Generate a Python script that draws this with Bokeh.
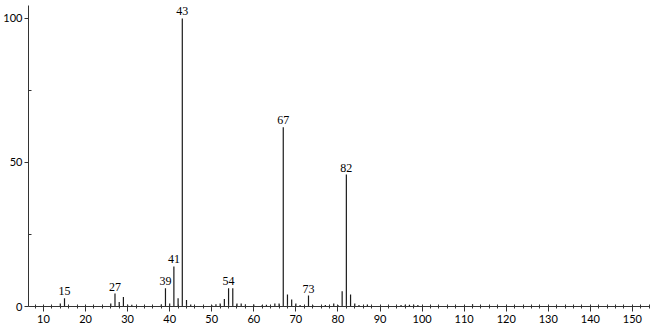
from bokeh.plotting import figure
from bokeh.models import ColumnDataSource, LabelSet, FixedTicker, Range1d
from bokeh.embed import file_html
from bokeh.resources import INLINE

mz = [14, 15, 26, 27, 28, 29, 30, 31, 38, 39, 40, 41, 42, 43, 44, 45,
      50, 51, 52, 53, 54, 55, 56, 57, 58, 60, 62, 63, 65, 66, 67, 68, 69, 70, 71,
      73, 74, 77, 79, 80, 81, 82, 83, 84, 85, 87, 95, 96, 97, 98, 99, 112]
intensity = [1.0, 2.9, 1.0, 4.5, 1.6, 3.3, 0.6, 0.6, 0.7, 6.3, 1.0, 13.9, 2.9, 100.0, 2.3, 0.7,
             0.5, 0.8, 1.0, 2.6, 6.3, 6.3, 1.0, 1.0, 0.7, 0.7, 0.5, 0.6, 1.0, 1.0, 62.2, 4.2, 2.4, 1.0, 0.5,
             3.8, 0.5, 0.5, 1.0, 0.5, 5.3, 45.8, 4.2, 1.0, 0.5, 0.7, 0.5, 0.6, 0.6, 0.6, 0.5, 0.8]
label_mz = [15, 27, 39, 41, 43, 54, 67, 73, 82]
label_int = [2.9, 4.5, 6.3, 13.9, 100.0, 6.3, 62.2, 3.8, 45.8]
label_txt = [str(m) for m in label_mz]

x_ticks = list(range(10, 151, 10))
x_minor = list(range(8, 155, 2))
y_ticks = [0, 50, 100]
y_minor = [25, 75]

FONT = "Lato"

p = figure(width=650, height=328, output_backend="svg", toolbar_location=None,
           x_range=Range1d(6.44, 154.3), y_range=Range1d(0, 104.5),
           min_border_left=27, min_border_right=0, min_border_top=5, min_border_bottom=22)
p.background_fill_color = "white"
p.border_fill_color = "white"
p.outline_line_color = None
p.grid.visible = False

src = ColumnDataSource(dict(x=mz, top=intensity, bottom=[0] * len(mz)))
p.segment(x0="x", y0="bottom", x1="x", y1="top", source=src,
          line_color="#1a1a1a", line_width=1.2)

lsrc = ColumnDataSource(dict(x=label_mz, y=label_int, t=label_txt))
p.add_layout(LabelSet(x="x", y="y", text="t", source=lsrc, text_align="center",
                      text_baseline="bottom", y_offset=3, text_font=FONT,
                      text_font_size="12px", text_color="#000000"))

p.xaxis.ticker = FixedTicker(ticks=x_ticks, minor_ticks=x_minor)
p.yaxis.ticker = FixedTicker(ticks=y_ticks, minor_ticks=y_minor)
for ax in (p.xaxis, p.yaxis):
    ax.axis_line_color = "#333333"
    ax.major_tick_line_color = "#333333"
    ax.minor_tick_line_color = "#333333"
    ax.major_label_text_font = FONT
    ax.major_label_text_font_size = "11px"
    ax.major_label_text_color = "#000000"
p.xaxis.major_tick_out = 5
p.xaxis.major_tick_in = 0
p.xaxis.minor_tick_out = 2
p.xaxis.minor_tick_in = 2
p.xaxis.major_label_standoff = 3
p.yaxis.major_tick_out = 4
p.yaxis.major_tick_in = 0
p.yaxis.minor_tick_out = 0
p.yaxis.minor_tick_in = 3
p.yaxis.major_label_standoff = 2

open("out.html", "w").write(file_html(p, INLINE))
